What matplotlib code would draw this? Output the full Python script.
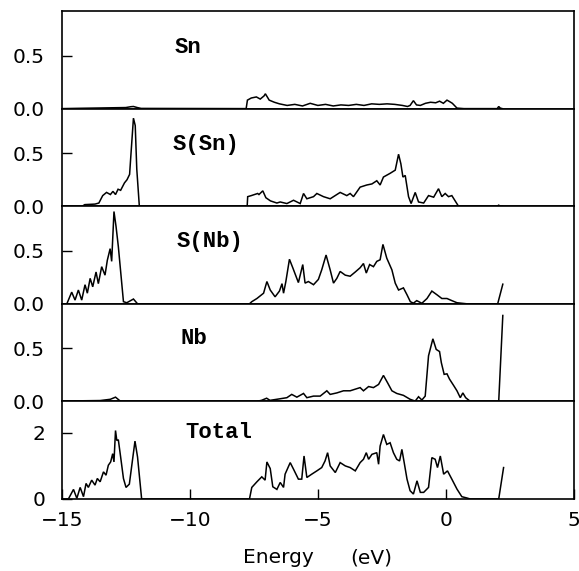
import matplotlib
matplotlib.use("Agg")
import matplotlib.pyplot as plt

# ---- data (energy in eV, partial density of states) ----
sn_points = [(-15, 0), (-14.3, 0.003), (-13.5, 0.006), (-12.5, 0.01), (-12.3, 0.018), (-12.2, 0.02),
             (-12.05, 0.01), (-11.9, 0.002), (-7.8, 0), (-7.75, 0.08), (-7.6, 0.1), (-7.4, 0.11),
             (-7.25, 0.09), (-7.1, 0.12), (-7.05, 0.14), (-6.9, 0.08), (-6.7, 0.06), (-6.5, 0.045),
             (-6.2, 0.03), (-5.9, 0.04), (-5.6, 0.025), (-5.3, 0.05), (-5.0, 0.03), (-4.7, 0.04),
             (-4.4, 0.025), (-4.1, 0.035), (-3.8, 0.03), (-3.5, 0.04), (-3.2, 0.03), (-2.9, 0.045),
             (-2.6, 0.04), (-2.3, 0.045), (-2.0, 0.04), (-1.7, 0.03), (-1.5, 0.02), (-1.4, 0.03),
             (-1.27, 0.075), (-1.15, 0.035), (-1.0, 0.03), (-0.8, 0.05), (-0.6, 0.06), (-0.4, 0.055),
             (-0.25, 0.07), (-0.1, 0.05), (0.04, 0.08), (0.15, 0.065), (0.25, 0.05), (0.43, 0.005),
             (0.7, 0), (2.0, 0), (2.06, 0.02), (2.12, 0.005), (2.2, 0)]

ssn_points = [(-15, 0), (-14.2, 0), (-14.1, 0.015), (-13.7, 0.02), (-13.55, 0.03), (-13.4, 0.1),
              (-13.25, 0.13), (-13.1, 0.11), (-13.0, 0.14), (-12.9, 0.11), (-12.8, 0.16), (-12.7, 0.15),
              (-12.55, 0.22), (-12.45, 0.25), (-12.35, 0.3), (-12.3, 0.48), (-12.2, 0.83), (-12.13, 0.76),
              (-12.07, 0.35), (-11.97, 0), (-7.76, 0), (-7.74, 0.09), (-7.6, 0.1), (-7.35, 0.12),
              (-7.3, 0.11), (-7.15, 0.145), (-7.03, 0.08), (-6.85, 0.05), (-6.6, 0.03), (-6.47, 0.04),
              (-6.21, 0.025), (-5.95, 0.056), (-5.69, 0.025), (-5.56, 0.12), (-5.43, 0.07), (-5.17, 0.09),
              (-5.04, 0.12), (-4.78, 0.09), (-4.52, 0.07), (-4.13, 0.13), (-3.87, 0.10), (-3.74, 0.12),
              (-3.61, 0.09), (-3.35, 0.18), (-3.09, 0.2), (-2.89, 0.21), (-2.70, 0.24), (-2.57, 0.2),
              (-2.44, 0.275), (-2.18, 0.31), (-1.98, 0.34), (-1.85, 0.49), (-1.76, 0.4), (-1.68, 0.275),
              (-1.59, 0.29), (-1.46, 0.09), (-1.36, 0.025), (-1.20, 0.13), (-1.07, 0.04), (-0.87, 0.03),
              (-0.68, 0.1), (-0.48, 0.085), (-0.29, 0.165), (-0.16, 0.09), (-0.03, 0.12), (0.10, 0.09),
              (0.23, 0.1), (0.49, 0), (2.0, 0), (2.06, 0.01), (2.12, 0), (2.2, 0)]

snb_points = [(-15, 0), (-14.80, 0), (-14.61, 0.11), (-14.48, 0.035), (-14.35, 0.13), (-14.22, 0.035),
              (-14.09, 0.18), (-14.0, 0.1), (-13.89, 0.24), (-13.79, 0.16), (-13.66, 0.3), (-13.57, 0.19),
              (-13.44, 0.35), (-13.31, 0.27), (-13.22, 0.41), (-13.11, 0.52), (-13.05, 0.40), (-12.96, 0.87),
              (-12.88, 0.73), (-12.79, 0.54), (-12.59, 0.02), (-12.46, 0.01), (-12.20, 0.045), (-12.04, 0),
              (-7.67, 0), (-7.58, 0.02), (-7.38, 0.05), (-7.12, 0.1), (-6.99, 0.21), (-6.86, 0.13),
              (-6.67, 0.066), (-6.5, 0.12), (-6.4, 0.19), (-6.34, 0.1), (-6.25, 0.21), (-6.11, 0.42),
              (-5.98, 0.34), (-5.76, 0.2), (-5.59, 0.37), (-5.50, 0.195), (-5.37, 0.21), (-5.17, 0.18),
              (-4.98, 0.23), (-4.85, 0.32), (-4.68, 0.46), (-4.52, 0.32), (-4.39, 0.195), (-4.26, 0.24),
              (-4.13, 0.305), (-3.93, 0.27), (-3.74, 0.26), (-3.54, 0.3), (-3.35, 0.34), (-3.22, 0.38),
              (-3.11, 0.29), (-2.98, 0.37), (-2.83, 0.35), (-2.70, 0.4), (-2.57, 0.415), (-2.46, 0.56),
              (-2.31, 0.43), (-2.11, 0.32), (-1.98, 0.195), (-1.85, 0.13), (-1.66, 0.15), (-1.52, 0.085),
              (-1.39, 0.02), (-1.27, 0.006), (-1.14, 0.03), (-0.94, 0.005), (-0.74, 0.05), (-0.55, 0.12),
              (-0.35, 0.085), (-0.16, 0.05), (0.04, 0.05), (0.23, 0.03), (0.43, 0.01), (0.82, 0),
              (2.02, 0), (2.22, 0.185)]

nb_points = [(-15, 0), (-14.5, 0.005), (-13.5, 0.008), (-13.1, 0.02), (-12.9, 0.04), (-12.7, 0),
             (-7.4, 0), (-7.2, 0.01), (-7.0, 0.03), (-6.87, 0.01), (-6.6, 0.02), (-6.47, 0.025),
             (-6.21, 0.035), (-6.02, 0.066), (-5.82, 0.04), (-5.56, 0.075), (-5.43, 0.035), (-5.17, 0.05),
             (-4.91, 0.05), (-4.65, 0.1), (-4.52, 0.066), (-4.26, 0.08), (-4.0, 0.1), (-3.74, 0.1),
             (-3.61, 0.11), (-3.35, 0.13), (-3.22, 0.1), (-3.02, 0.14), (-2.83, 0.13), (-2.63, 0.16),
             (-2.44, 0.245), (-2.28, 0.176), (-2.11, 0.1), (-1.92, 0.075), (-1.66, 0.057), (-1.40, 0.02),
             (-1.20, 0.003), (-1.07, 0.044), (-0.94, 0.013), (-0.81, 0.05), (-0.68, 0.43), (-0.51, 0.59),
             (-0.38, 0.49), (-0.25, 0.47), (-0.18, 0.365), (-0.07, 0.255), (0.04, 0.26), (0.14, 0.21),
             (0.30, 0.15), (0.43, 0.1), (0.56, 0.035), (0.66, 0.08), (0.77, 0.035), (0.95, 0),
             (2.06, 0), (2.22, 0.81)]

total_points = [(-15, 0), (-14.74, 0), (-14.54, 0.29), (-14.41, 0.02), (-14.28, 0.35), (-14.15, 0.07),
                (-14.05, 0.47), (-13.96, 0.35), (-13.83, 0.57), (-13.70, 0.42), (-13.61, 0.62), (-13.50, 0.52),
                (-13.37, 0.82), (-13.27, 0.72), (-13.18, 1.02), (-13.09, 1.12), (-13.01, 1.37), (-12.96, 1.12),
                (-12.90, 2.07), (-12.85, 1.77), (-12.79, 1.79), (-12.70, 1.27), (-12.59, 0.62), (-12.49, 0.35),
                (-12.36, 0.45), (-12.23, 1.22), (-12.14, 1.75), (-12.04, 1.27), (-11.88, 0), (-7.67, 0),
                (-7.58, 0.35), (-7.38, 0.52), (-7.19, 0.67), (-7.06, 0.57), (-6.99, 1.12), (-6.86, 0.92),
                (-6.76, 0.37), (-6.60, 0.29), (-6.47, 0.5), (-6.34, 0.35), (-6.28, 0.75), (-6.08, 1.1),
                (-5.95, 0.9), (-5.76, 0.6), (-5.63, 0.6), (-5.54, 1.3), (-5.43, 0.65), (-5.24, 0.75),
                (-5.04, 0.85), (-4.85, 0.95), (-4.72, 1.15), (-4.62, 1.4), (-4.52, 1.0), (-4.32, 0.8),
                (-4.13, 1.1), (-3.93, 1.0), (-3.74, 0.95), (-3.54, 0.85), (-3.35, 1.1), (-3.22, 1.2),
                (-3.11, 1.4), (-3.02, 1.2), (-2.89, 1.35), (-2.70, 1.4), (-2.63, 1.05), (-2.57, 1.6),
                (-2.44, 1.95), (-2.31, 1.65), (-2.18, 1.7), (-2.05, 1.4), (-1.92, 1.2), (-1.81, 1.15),
                (-1.72, 1.5), (-1.63, 1.1), (-1.52, 0.6), (-1.40, 0.25), (-1.27, 0.15), (-1.13, 0.55),
                (-1.00, 0.2), (-0.87, 0.2), (-0.68, 0.35), (-0.55, 1.25), (-0.42, 1.2), (-0.33, 0.95),
                (-0.22, 1.3), (-0.09, 0.75), (0.06, 0.85), (0.23, 0.6), (0.43, 0.3), (0.62, 0.07),
                (0.82, 0.03), (0.95, 0), (2.06, 0), (2.25, 0.95)]

panel_labels = ["Sn", "S(Sn)", "S(Nb)", "Nb", "Total"]
panel_series = [sn_points, ssn_points, snb_points, nb_points, total_points]
y_limits = [0.92, 0.92, 0.92, 0.92, 2.95]
y_ticks = [[0, 0.5], [0, 0.5], [0, 0.5], [0, 0.5], [0, 2]]
y_ticklabels = [["0.0", "0.5"], ["0.0", "0.5"], ["0.0", "0.5"], ["0.0", "0.5"], ["0", "2"]]
x_ticks = [-15, -10, -5, 0, 5]
x_ticklabels = ["\u221215", "\u221210", "\u22125", "0", "5"]

# label placement (axes fraction)
label_pos = [(0.221, 0.628), (0.217, 0.63), (0.225, 0.64), (0.231, 0.644), (0.241, 0.68)]

fig = plt.figure(figsize=(5.79, 5.71), dpi=100)
axes = fig.subplots(5, 1, sharex=True, gridspec_kw=dict(hspace=0))
fig.subplots_adjust(left=0.1066, right=0.9914, top=0.9807, bottom=0.1261)

for i, ax in enumerate(axes):
    e, v = zip(*panel_series[i])
    ax.plot(e, v, color="black", lw=1.1, solid_joinstyle="miter")
    ax.set_xlim(-15, 5)
    ax.set_ylim(0, y_limits[i])
    ax.set_yticks(y_ticks[i])
    ax.set_yticklabels(y_ticklabels[i])
    for s in ax.spines.values():
        s.set_linewidth(1.2)
    ax.tick_params(axis="y", direction="in", length=7, width=1.0, labelsize=14.5, pad=12,
                   right=False, left=True)
    ax.tick_params(axis="x", direction="in", length=7, width=1.0, labelsize=14.5, pad=9,
                   top=False, bottom=(i == 4))
    ax.text(label_pos[i][0], label_pos[i][1], panel_labels[i], transform=ax.transAxes,
            ha="left", va="center", family="Liberation Mono", weight="bold", fontsize=16)

axes[-1].set_xticks(x_ticks)
axes[-1].set_xticklabels(x_ticklabels)

fig.text(0.4197, 0.014, "Energy", ha="left", va="baseline", fontsize=14.5)
fig.text(0.6045, 0.014, "(eV)", ha="left", va="baseline", fontsize=14.5)

fig.savefig("out.png", dpi=100)
